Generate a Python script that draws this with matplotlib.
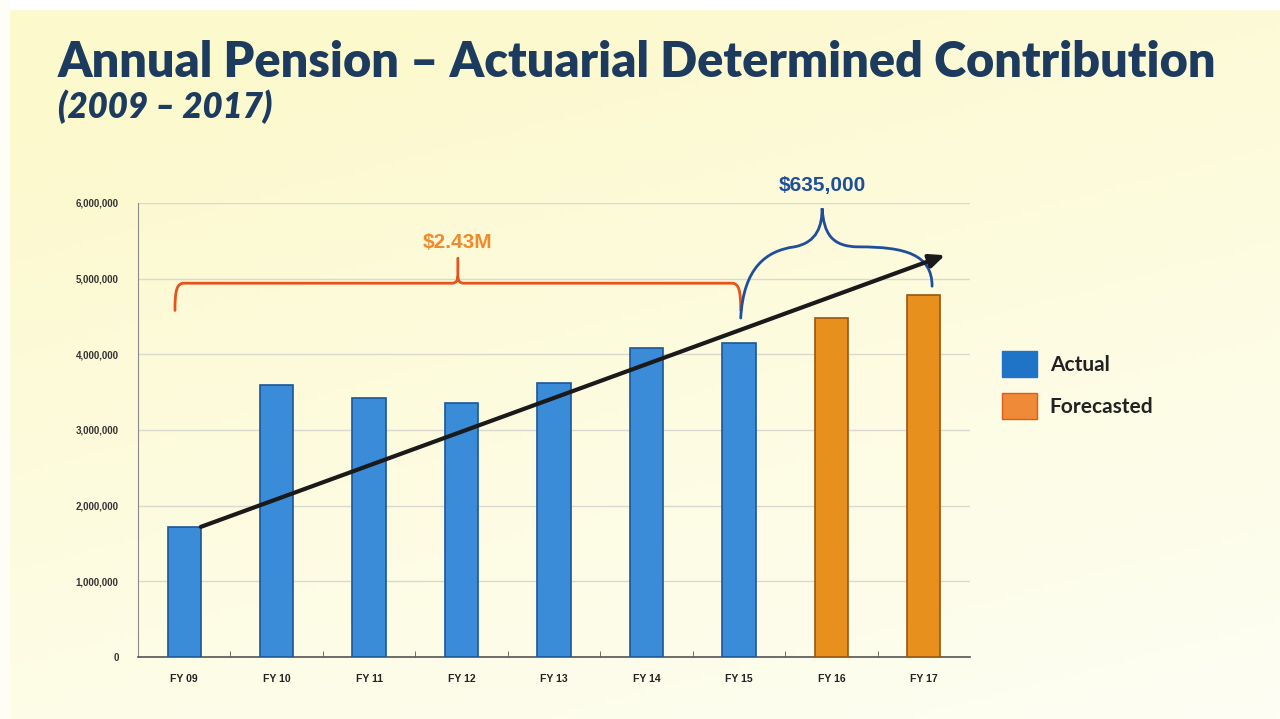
import matplotlib
matplotlib.use("Agg")
import matplotlib.pyplot as plt
import numpy as np
from matplotlib.path import Path
from matplotlib.patches import PathPatch, Patch
from matplotlib.ticker import FuncFormatter, MultipleLocator

# pension contributions by fiscal year
years = ["FY 09", "FY 10", "FY 11", "FY 12", "FY 13", "FY 14", "FY 15", "FY 16", "FY 17"]
actual = [1720000, 3590000, 3420000, 3360000, 3620000, 4090000, 4150000]
forecast = [4480000, 4785000]
growth_label = "$2.43M"
forecast_label = "$635,000"

navy = "#1c3b5e"
blue = "#3a8bd8"
blue_edge = "#1c5698"
orange = "#e8901e"
orange_edge = "#9a5510"

fig = plt.figure(figsize=(12.8, 7.19), dpi=100)

# slide background: pale yellow at the top fading to white at the bottom right
bg = fig.add_axes([0, 0, 1, 1], zorder=-10)
gx, gy = np.meshgrid(np.linspace(0, 1, 256), np.linspace(0, 1, 144))
t = np.clip(0.75 * gy + 0.35 * gx - 0.1, 0, 1)
c0 = np.array([252, 249, 204]) / 255
c1 = np.array([254, 254, 244]) / 255
img = c0[None, None, :] * (1 - t[..., None]) + c1[None, None, :] * t[..., None]
bg.imshow(img, extent=[0, 1, 0, 1], aspect="auto", origin="upper")
bg.add_patch(plt.Rectangle((0, 0.988), 1, 0.02, color="white"))
bg.add_patch(plt.Rectangle((0, 0), 0.007, 1, color="#fefef6"))
bg.set_xlim(0, 1)
bg.set_ylim(0, 1)
bg.axis("off")

fig.text(0.045, 0.893, "Annual Pension \u2013 Actuarial Determined Contribution",
         fontsize=35, fontweight="heavy", family="Lato", color=navy, va="baseline")
fig.text(0.045, 0.836, "(2009 \u2013 2017)", fontsize=25, fontweight="heavy",
         style="italic", family="Lato", color=navy, va="baseline")

ax = fig.add_axes([0.1078, 0.0862, 0.65, 0.6315])
ax.set_facecolor("none")

xa = np.arange(len(actual))
xf = np.arange(len(actual), len(years))
b1 = ax.bar(xa, actual, width=0.36, color=blue, edgecolor=blue_edge, linewidth=1.2,
            label="Actual", zorder=3)
b2 = ax.bar(xf, forecast, width=0.36, color=orange, edgecolor=orange_edge, linewidth=1.2,
            label="Forecasted", zorder=3)

ax.set_xlim(-0.5, len(years) - 0.5)
ax.set_ylim(0, 6000000)
ax.yaxis.set_major_locator(MultipleLocator(1000000))
ax.yaxis.set_major_formatter(FuncFormatter(lambda v, p: f"{int(v):,}"))
ax.set_xticks(range(len(years)))
ax.set_xticklabels(years)
ax.set_xticks(np.arange(0.5, len(years) - 0.5), minor=True)
ax.tick_params(axis="x", which="major", length=0, pad=12, labelsize=7.5, labelcolor="#222222")
ax.tick_params(axis="x", which="minor", direction="in", length=4, color="#555555")
ax.tick_params(axis="y", length=0, pad=14, labelsize=7, labelcolor="#333333")
for lbl in ax.get_xticklabels() + ax.get_yticklabels():
    lbl.set_family("Liberation Sans")
    lbl.set_fontweight("bold")
ax.grid(axis="y", color="#d9d9cf", linewidth=1, zorder=0)
for s in ["top", "right"]:
    ax.spines[s].set_visible(False)
ax.spines["left"].set_color("#8a8a8a")
ax.spines["bottom"].set_color("#555555")
ax.spines["bottom"].set_linewidth(1.2)

# trend arrow from the FY09 bar top
ax.annotate("", xy=(8.23, 5310000), xytext=(0.18, actual[0]),
            arrowprops=dict(arrowstyle="-|>,head_length=0.9,head_width=0.4",
                            color="#1a1a1a", lw=3, shrinkA=0, shrinkB=0),
            zorder=5, annotation_clip=False)

# orange brace over FY09-FY15
yb, ytip, ypk, xm = 4940000, 4580000, 5270000, 2.96
x0, x1 = -0.1, 6.02
ob = [(x0, ytip), (x0, 4850000), (x0 + 0.02, yb), (x0 + 0.1, yb),
      (xm - 0.06, yb), (xm - 0.02, yb), (xm, 4980000), (xm, 5020000), (xm, ypk),
      (xm, 5020000), (xm, 4980000), (xm + 0.02, yb), (xm + 0.06, yb),
      (x1 - 0.1, yb), (x1 - 0.02, yb), (x1, 4850000), (x1, ytip)]
oc = [Path.MOVETO, Path.CURVE4, Path.CURVE4, Path.CURVE4,
      Path.LINETO, Path.CURVE4, Path.CURVE4, Path.CURVE4, Path.LINETO,
      Path.MOVETO, Path.CURVE4, Path.CURVE4, Path.CURVE4,
      Path.LINETO, Path.CURVE4, Path.CURVE4, Path.CURVE4]
ax.add_patch(PathPatch(Path(ob, oc), facecolor="none", edgecolor="#e8521c",
                       lw=2, zorder=4, capstyle="round"))
ax.text(xm, 5480000, growth_label, ha="center", va="center", fontsize=15,
        fontweight="bold", family="Liberation Sans", color="#f08a2c")

# blue brace over FY15-FY17
bb = [(6.02, 4480000), (6.05, 5150000), (6.3, 5370000), (6.6, 5420000),
      (6.85, 5480000), (6.9, 5700000), (6.9, 5930000),
      (6.92, 5600000), (7.0, 5420000), (7.3, 5420000),
      (7.8, 5420000), (8.09, 5320000), (8.09, 4900000)]
bc = [Path.MOVETO] + [Path.CURVE4] * 12
ax.add_patch(PathPatch(Path(bb, bc), facecolor="none", edgecolor="#1f4f9c",
                       lw=2, zorder=4, clip_on=False, capstyle="round"))
ax.text(6.9, 6230000, forecast_label, ha="center", va="center", fontsize=15,
        fontweight="bold", family="Liberation Sans", color="#1f4f9c",
        clip_on=False)

leg = ax.legend(handles=[Patch(facecolor="#1f74c8", edgecolor="#1f74c8"),
                         Patch(facecolor="#ee8a38", edgecolor="#e05a18")],
                labels=["Actual", "Forecasted"],
                loc="upper left", bbox_to_anchor=(0.783, 0.512), bbox_transform=fig.transFigure,
                frameon=False, fontsize=15, handlelength=1.68, handleheight=1.54,
                labelspacing=0.77, handletextpad=0.6, borderpad=0, borderaxespad=0)
for txt in leg.get_texts():
    txt.set_family("Lato")
    txt.set_fontweight("bold")
    txt.set_color("#222222")

fig.savefig("out.png", dpi=100)
